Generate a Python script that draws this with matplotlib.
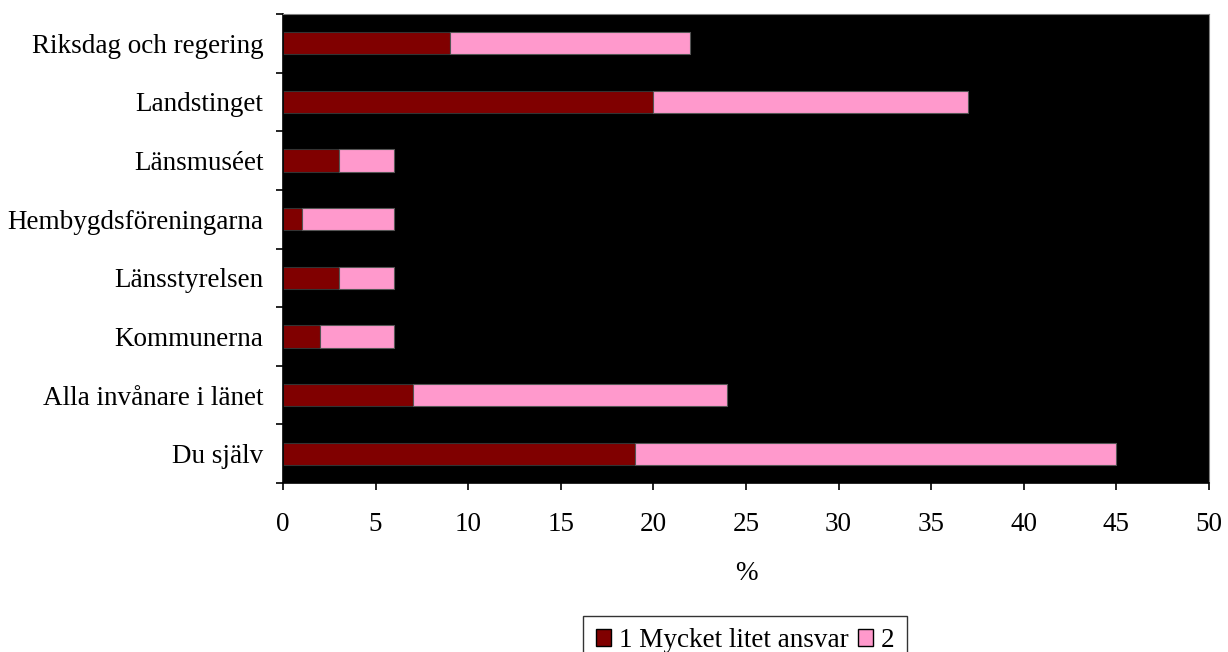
import matplotlib
matplotlib.use("Agg")
import matplotlib.pyplot as plt
import numpy as np

categories = ["Riksdag och regering", "Landstinget", "Länsmuséet", "Hembygdsföreningarna",
              "Länsstyrelsen", "Kommunerna", "Alla invånare i länet", "Du själv"]
series1 = [9, 20, 3, 1, 3, 2, 7, 19]
series2 = [13, 17, 3, 5, 3, 4, 17, 26]
labels = ["1 Mycket litet ansvar", "2"]
xticks = [0, 5, 10, 15, 20, 25, 30, 35, 40, 45, 50]

FS = 19.5
plt.rcParams['font.family'] = ['Liberation Serif', 'DejaVu Serif']
fig = plt.figure(figsize=(12.28, 6.52), dpi=100)
ax = fig.add_axes([283/1228, 1-483/652, (1209-283)/1228, (483-14)/652])
ax.set_facecolor('black')

y = np.arange(len(categories))
h = 0.38
ax.barh(y, series1, height=h, color='#800000', edgecolor='#333333', linewidth=0.8, label=labels[0])
ax.barh(y, series2, left=series1, height=h, color='#FF99CC', edgecolor='#555555', linewidth=0.8, label=labels[1])

ax.set_ylim(len(categories)-0.5, -0.5)
ax.set_xlim(0, 50)
ax.set_xticks(xticks)
ax.set_xticklabels([str(t) for t in xticks], fontsize=FS)
ax.set_yticks(y)
ax.set_yticklabels(categories, fontsize=FS)
ax.tick_params(axis='y', length=0, pad=14)
ax.set_yticks(np.arange(-0.5, len(categories), 1), minor=True)
ax.tick_params(axis='y', which='minor', length=5, width=1.2, direction='out')
ax.tick_params(axis='x', length=5, width=1.2, direction='out', pad=16)
ax.set_xlabel('%', fontsize=FS, labelpad=17)

for s in ['top', 'right']:
    ax.spines[s].set_color('#808080')
for s in ['left', 'bottom']:
    ax.spines[s].set_color('black')
    ax.spines[s].set_linewidth(1.2)

leg = fig.legend(loc='upper center', bbox_to_anchor=(745/1228, 1-616/652), ncol=2,
                 fontsize=FS, frameon=True, fancybox=False, edgecolor='black',
                 handlelength=0.55, handleheight=0.55, handletextpad=0.3, columnspacing=0.35,
                 borderpad=0.45, borderaxespad=0)
leg.get_frame().set_linewidth(1.0)
for hnd in leg.legend_handles:
    hnd.set_edgecolor('black')
    hnd.set_linewidth(1.0)

fig.savefig('out.png', dpi=100, facecolor='white')
